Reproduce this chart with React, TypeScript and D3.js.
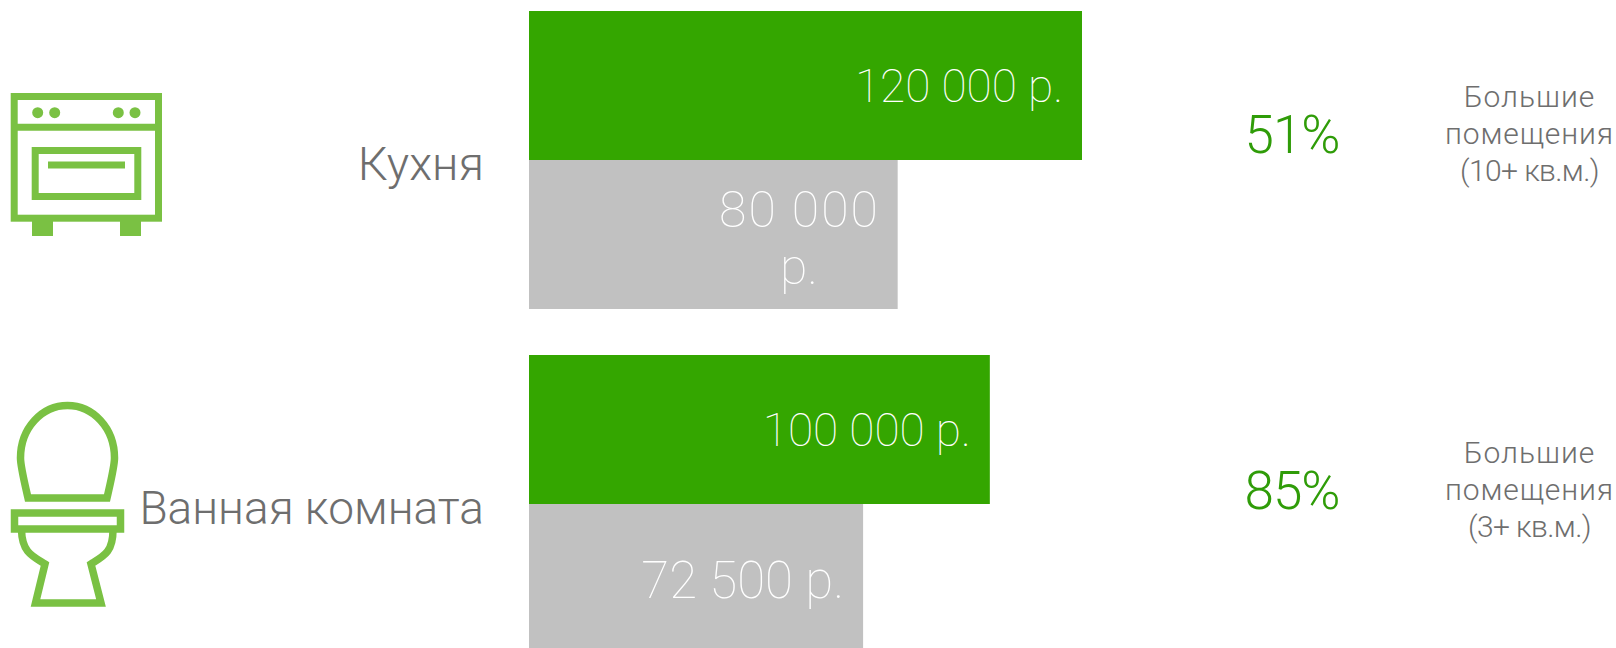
import React from "react";
import * as d3 from "d3";

const rooms = ["Кухня", "Ванная комната"];
const bigCosts = [120000, 100000];
const smallCosts = [80000, 72500];
const percents = ["51%", "85%"];
const notes = [
  ["Большие", "помещения", "(10+ кв.м.)"],
  ["Большие", "помещения", "(3+ кв.м.)"],
];

const W = 1616;
const H = 648;
const FONT = "Roboto, 'Noto Sans', sans-serif";
const GREEN = "#34a600";
const DARK_GREEN = "#2f9c08";
const GREY = "#c1c1c1";
const ICON = "#7ac143";
const INK = "#6e6e6e";

const x = d3.scaleLinear().domain([0, 120000]).range([529, 1082]);
const y = d3.scaleBand().domain(rooms).range([11, 653]).paddingInner(46 / 344);

const fmt = (v: number) => d3.format(",")(v).replace(",", " ") + " р.";

// right column sits lower in the second row
const rowShift = [0, 12];
const noteSpacing = [1, 0.9, -0.6];
const roomSize = [47, 46];

function Oven() {
  return (
    <g fill="none" stroke={ICON} strokeWidth={7}>
      <rect x={14.2} y={96.5} width={144.3} height={121.7} />
      <line x1={14} x2={158} y1={127.3} y2={127.3} />
      <rect x={35.2} y={150.5} width={102.6} height={46} />
      <line x1={48} x2={125} y1={165} y2={165} />
      <g fill={ICON} stroke="none">
        <circle cx={37.7} cy={112.7} r={5.5} />
        <circle cx={54.7} cy={112.7} r={5.5} />
        <circle cx={118.3} cy={112.7} r={5.5} />
        <circle cx={135} cy={112.7} r={5.5} />
        <rect x={32} y={220} width={21} height={16} />
        <rect x={120} y={220} width={21} height={16} />
      </g>
    </g>
  );
}

function Toilet() {
  return (
    <g fill="none" stroke={ICON} strokeWidth={7.5}>
      <path d="M28 498 C23 476 20.500 466 20.500 458 C20.500 428 42 405.500 67.500 405.500 C93 405.500 114.500 428 114.500 458 C114.500 466 112 476 107 498 Z" />
      <rect x={14.500} y={513} width={106} height={16} />
      <path d="M21.500 530 C22 552 32 556 45 564 L35.500 603 L101 603 L91 564 C104 556 113 552 113 530" />
    </g>
  );
}

export default function App() {
  return (
    <svg
      width={W}
      height={H}
      style={{ position: "absolute", left: 0, top: 0, display: "block", fontFamily: FONT, fontWeight: 300 }}
    >
      <Oven />
      <Toilet />
      {rooms.map((room, i) => {
        const top = y(room)!;
        const h = y.bandwidth() / 2;
        const small = fmt(smallCosts[i]);
        // the narrow grey bar breaks its label in two
        const smallLines = smallCosts[i] === 80000 ? ["80 000", "р."] : [small];
        return (
          <g key={room}>
            <text x={484} y={top + 169} textAnchor="end" fontSize={roomSize[i]} fill={INK}>{room}</text>
            <rect x={x(0)} y={top} width={x(bigCosts[i]) - x(0)} height={h} fill={GREEN} />
            <rect x={x(0)} y={top + h} width={x(smallCosts[i]) - x(0)} height={h} fill={GREY} />
            <text x={x(bigCosts[i]) - 19} y={top + 91} textAnchor="end" fontSize={46} fontWeight={100} fill="#fff">{fmt(bigCosts[i])}</text>
            {smallLines.length === 2 ? (
              <g fill="#fff" fontSize={50} fontWeight={100} textAnchor="middle">
                <text x={799.5} y={top + h + 67} letterSpacing={2}>{smallLines[0]}</text>
                <text x={799} y={top + h + 124}>{smallLines[1]}</text>
              </g>
            ) : (
              <text x={x(smallCosts[i]) - 19} y={top + h + 94} textAnchor="end" fontSize={51} fontWeight={100} fill="#fff">{small}</text>
            )}
            <text x={1292} y={top + 142 + rowShift[i]} textAnchor="middle" fontSize={53} letterSpacing={-1} fill={DARK_GREEN}>{percents[i]}</text>
            {notes[i].map((line, k) => (
              <text key={k} x={1529.5} y={top + 96 + rowShift[i] + k * 37} textAnchor="middle" fontSize={30} letterSpacing={noteSpacing[k]} fill={INK}>{line}</text>
            ))}
          </g>
        );
      })}
    </svg>
  );
}
